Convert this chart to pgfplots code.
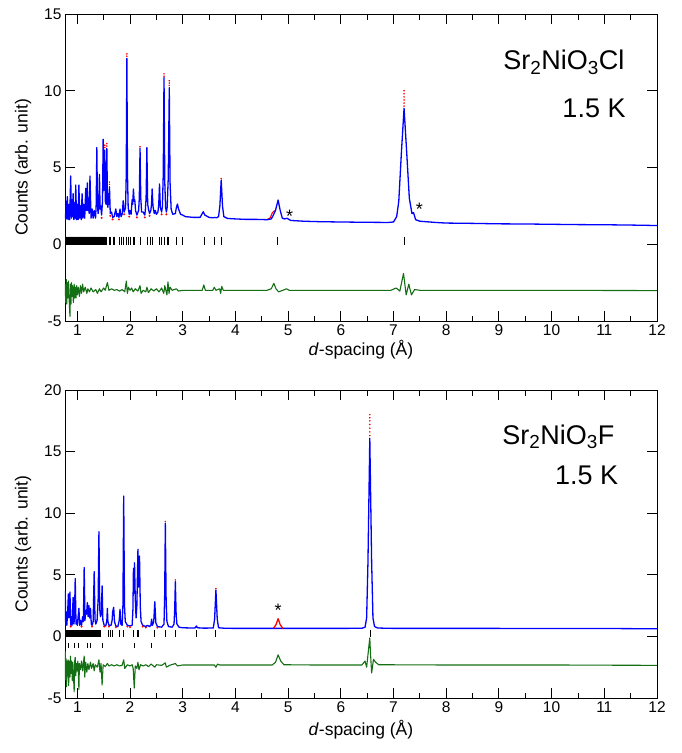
\documentclass[border=0pt]{standalone}
\usepackage{pgfplots}
\pgfplotsset{compat=1.18}
\usepackage{fontspec}
\setmainfont{Liberation Sans}
\definecolor{dgreen}{RGB}{20,110,20}
\pgfplotsset{
 myax/.style={scale only axis, width=592pt, xmin=0.766, xmax=12,
  xtick={1,2,3,4,5,6,7,8,9,10,11,12}, minor x tick num=1,
  tick align=inside, major tick length=10pt, minor tick length=5.5pt,
  axis line style={line width=0.9pt}, every tick/.style={black, line width=0.9pt},
  tick label style={font=\fontsize{15.5}{17}\selectfont},
  label style={font=\fontsize{17.5}{20}\selectfont},
  xlabel={\textit{d}-spacing (Å)}, ylabel={Counts (arb. unit)},
  xlabel style={yshift=2pt}, ylabel shift=6pt,
  /pgf/number format/assume math mode=true, clip=true},
 calc/.style={blue, line width=1.3pt, line join=round},
 obs/.style={red, line width=1.1pt, line join=round},
 obsdot/.style={red, only marks, mark=*, mark size=0.55pt},
 diff/.style={dgreen, line width=1.1pt, line join=round},
 refl/.style={black, only marks, mark=|, mark options={line width=0.6pt}},
}
\begin{document}
\begin{tikzpicture}
\useasboundingbox (-65pt,-432pt) rectangle (616pt,321pt);
% ---------------- Top: Sr2NiO3Cl ----------------
\begin{axis}[myax, at={(0pt,0pt)}, anchor=south west, height=307pt,
  ymin=-5, ymax=15, ytick={-5,0,5,10,15}]
\addplot[obsdot, mark size=0.8pt] coordinates {(1.46,1.72)(1.625,1.85)(1.67,1.62)(1.79,1.62)(1.89,1.95)(1.985,1.8)(2.13,1.75)(2.28,1.75)(2.37,1.85)(2.6,1.95)(2.69,1.95)};
\addplot[obs] coordinates {(4.6,1.6)(4.66,1.72)(4.70,2.05)(4.73,2.15)(4.76,2.2)};
\addplot[calc] coordinates {(0.77,2.0)(0.78,1.6)(0.79,2.8)(0.80,1.7)(0.81,3.1)(0.825,1.6)(0.84,2.6)(0.855,1.6)(0.874,4.45)(0.888,1.7)(0.90,2.9)(0.91,1.8)(0.92,3.3)(0.935,1.6)(0.95,2.7)(0.96,1.7)(0.97,3.86)(0.985,1.6)(1.00,2.6)(1.015,1.6)(1.03,3.86)(1.045,1.7)(1.06,2.5)(1.075,1.6)(1.09,3.3)(1.105,1.7)(1.12,2.6)(1.14,1.7)(1.16,3.64)(1.175,2.2)(1.19,4.0)(1.20,2.2)(1.21,3.0)(1.225,2.0)(1.24,4.45)(1.26,1.7)(1.28,2.3)(1.30,1.7)(1.32,2.2)(1.346,1.7)(1.358,2.6)(1.37,6.3)(1.382,2.6)(1.394,2.0)(1.408,2.4)(1.42,4.55)(1.432,2.3)(1.445,2.5)(1.46,1.9)(1.478,2.8)(1.49,6.84)(1.50,3.5)(1.52,6.14)(1.532,2.8)(1.545,2.6)(1.56,6.25)(1.572,2.6)(1.58,2.4)(1.59,3.3)(1.60,2.6)(1.61,3.75)(1.625,2.0)(1.65,2.1)(1.67,1.75)(1.70,1.8)(1.73,2.3)(1.75,1.8)(1.77,2.0)(1.79,1.75)(1.81,2.3)(1.83,1.8)(1.855,2.0)(1.87,2.84)(1.89,2.1)(1.915,2.4)(1.928,4.5)(1.94,12.1)(1.952,4.5)(1.965,2.4)(1.985,1.95)(2.00,2.2)(2.02,1.95)(2.04,2.9)(2.05,2.6)(2.065,3.6)(2.078,2.8)(2.09,2.9)(2.105,2.2)(2.13,1.9)(2.163,2.2)(2.176,3.0)(2.19,6.25)(2.204,3.0)(2.22,2.1)(2.25,2.1)(2.28,1.9)(2.29,2.2)(2.305,3.0)(2.32,6.3)(2.335,2.6)(2.35,2.3)(2.37,2.0)(2.395,2.2)(2.408,2.6)(2.42,3.6)(2.435,2.5)(2.46,2.0)(2.48,2.2)(2.50,1.95)(2.53,2.1)(2.545,2.6)(2.56,3.93)(2.575,2.4)(2.6,2.1)(2.615,2.5)(2.63,4.5)(2.645,10.87)(2.66,4.0)(2.675,2.4)(2.69,2.1)(2.705,2.4)(2.725,4.3)(2.745,10.2)(2.76,4.0)(2.78,2.3)(2.81,1.95)(2.86,2.0)(2.88,2.4)(2.9,2.62)(2.92,2.3)(2.96,1.95)(3.0,1.9)(3.05,1.8)(3.2,1.75)(3.33,1.75)(3.37,2.0)(3.39,2.12)(3.42,1.9)(3.5,1.75)(3.58,1.72)(3.61,1.75)(3.64,1.72)(3.68,1.8)(3.705,2.5)(3.73,4.18)(3.755,2.5)(3.78,1.8)(3.85,1.68)(4.0,1.65)(4.2,1.62)(4.4,1.62)(4.6,1.6)(4.68,1.65)(4.72,1.9)(4.76,2.2)(4.81,2.88)(4.85,2.2)(4.89,1.7)(4.93,1.65)(4.98,1.69)(5.05,1.55)(5.3,1.5)(5.6,1.47)(6.0,1.45)(6.5,1.43)(6.9,1.42)(7.0,1.45)(7.06,1.8)(7.1,2.8)(7.15,6.0)(7.2,8.86)(7.25,6.0)(7.3,3.0)(7.35,2.0)(7.38,2.06)(7.42,1.6)(7.5,1.5)(7.8,1.42)(8.0,1.38)(8.5,1.36)(9.0,1.33)(9.5,1.32)(10,1.3)(10.5,1.28)(11,1.27)(11.5,1.25)(12,1.22)};
\addplot[obsdot] coordinates {(1.94,12.25)(1.94,12.4)(2.645,10.95)(2.645,11.1)(2.745,10.35)(2.745,10.5)(2.745,10.65)(1.52,6.3)(1.52,6.45)(1.56,6.4)(1.56,6.55)(1.61,3.9)(1.61,4.05)(2.19,6.35)(3.73,4.28)(7.2,9.0)(7.2,9.2)(7.2,9.4)(7.2,9.6)(7.2,9.8)(7.2,10.0)};
\addplot[refl, mark size=4.2pt] coordinates {(0.77,0.22)(0.78,0.22)(0.79,0.22)(0.80,0.22)(0.81,0.22)(0.82,0.22)(0.83,0.22)(0.84,0.22)(0.85,0.22)(0.86,0.22)(0.87,0.22)(0.88,0.22)(0.89,0.22)(0.90,0.22)(0.91,0.22)(0.92,0.22)(0.93,0.22)(0.94,0.22)(0.95,0.22)(0.96,0.22)(0.97,0.22)(0.98,0.22)(0.99,0.22)(1.00,0.22)(1.01,0.22)(1.02,0.22)(1.03,0.22)(1.04,0.22)(1.05,0.22)(1.06,0.22)(1.07,0.22)(1.08,0.22)(1.09,0.22)(1.10,0.22)(1.11,0.22)(1.12,0.22)(1.13,0.22)(1.14,0.22)(1.15,0.22)(1.16,0.22)(1.17,0.22)(1.18,0.22)(1.19,0.22)(1.20,0.22)(1.21,0.22)(1.22,0.22)(1.23,0.22)(1.24,0.22)(1.25,0.22)(1.26,0.22)(1.27,0.22)(1.28,0.22)(1.29,0.22)(1.30,0.22)(1.31,0.22)(1.32,0.22)(1.33,0.22)(1.34,0.22)(1.35,0.22)(1.36,0.22)(1.37,0.22)(1.38,0.22)(1.39,0.22)(1.40,0.22)(1.41,0.22)(1.42,0.22)(1.43,0.22)(1.44,0.22)(1.45,0.22)(1.465,0.22)(1.48,0.22)(1.49,0.22)(1.505,0.22)(1.52,0.22)(1.535,0.22)(1.55,0.22)(1.60,0.22)(1.63,0.22)(1.68,0.22)(1.71,0.22)(1.79,0.22)(1.83,0.22)(1.88,0.22)(1.93,0.22)(1.96,0.22)(2.01,0.22)(2.06,0.22)(2.09,0.22)(2.19,0.22)(2.33,0.22)(2.38,0.22)(2.42,0.22)(2.55,0.22)(2.59,0.22)(2.645,0.22)(2.71,0.22)(2.73,0.22)(2.88,0.22)(3.0,0.22)(3.4,0.22)(3.6,0.22)(3.73,0.22)(4.79,0.22)(7.2,0.22)};
\addplot[diff] coordinates {(0.77,-2.6)(0.78,-3.8)(0.79,-2.3)(0.80,-3.9)(0.81,-2.5)(0.82,-3.5)(0.83,-2.4)(0.845,-3.6)(0.86,-4.7)(0.87,-2.6)(0.88,-3.9)(0.89,-2.5)(0.90,-3.4)(0.91,-2.7)(0.925,-3.8)(0.94,-2.6)(0.95,-3.5)(0.96,-2.8)(0.975,-3.5)(0.99,-2.7)(1.0,-3.3)(1.02,-2.8)(1.04,-3.4)(1.06,-2.7)(1.08,-3.2)(1.10,-2.6)(1.12,-3.1)(1.15,-2.8)(1.18,-3.2)(1.2,-2.9)(1.23,-3.1)(1.26,-2.85)(1.3,-3.1)(1.35,-2.95)(1.38,-3.2)(1.42,-2.9)(1.45,-3.1)(1.5,-2.85)(1.53,-3.0)(1.57,-2.5)(1.6,-3.0)(1.65,-2.9)(1.7,-3.0)(1.75,-2.95)(1.8,-3.05)(1.85,-2.95)(1.9,-3.1)(1.93,-2.4)(1.95,-3.2)(1.97,-2.8)(2.0,-3.0)(2.03,-2.85)(2.06,-3.1)(2.1,-2.9)(2.15,-3.05)(2.19,-2.7)(2.21,-3.2)(2.25,-3.0)(2.3,-3.1)(2.32,-2.8)(2.35,-3.15)(2.4,-2.9)(2.45,-3.05)(2.5,-2.9)(2.55,-3.1)(2.6,-2.85)(2.64,-3.2)(2.66,-2.7)(2.7,-3.3)(2.72,-2.45)(2.74,-3.2)(2.76,-2.8)(2.8,-3.0)(2.88,-2.9)(2.92,-3.05)(3.0,-3.0)(3.2,-3.0)(3.37,-3.0)(3.40,-2.65)(3.43,-3.0)(3.57,-3.0)(3.60,-2.8)(3.63,-3.0)(3.7,-2.9)(3.72,-3.2)(3.74,-2.75)(3.77,-3.0)(4.0,-3.0)(4.6,-3.0)(4.68,-2.9)(4.73,-2.55)(4.77,-2.9)(4.82,-3.1)(4.9,-3.0)(4.97,-2.9)(5.02,-3.0)(6.0,-3.0)(6.95,-3.0)(7.05,-2.85)(7.12,-3.05)(7.19,-1.9)(7.24,-3.3)(7.29,-2.6)(7.34,-3.3)(7.4,-2.95)(7.5,-3.0)(8,-3.0)(10,-3.0)(12,-3.02)};
\node[anchor=east, font=\fontsize{27}{30}\selectfont] at (axis cs:11.45,11.85) {Sr\textsubscript{2}NiO\textsubscript{3}Cl};
\node[anchor=east, font=\fontsize{27}{30}\selectfont] at (axis cs:11.47,8.85) {1.5 K};
\node[font=\fontsize{18}{20}\selectfont] at (axis cs:5.03,1.85) {*};
\node[font=\fontsize{18}{20}\selectfont] at (axis cs:7.49,2.25) {*};
\end{axis}
% ---------------- Bottom: Sr2NiO3F ----------------
\begin{axis}[myax, at={(0pt,-377pt)}, anchor=south west, height=308pt,
  ymin=-5, ymax=20, ytick={-5,0,5,10,15,20}, xlabel style={yshift=-3pt}]
\addplot[obsdot, mark size=0.8pt] coordinates {(0.875,0.8)(1.08,0.8)(1.28,0.8)(1.51,0.8)(1.60,0.8)(1.73,0.75)(1.95,0.8)(2.0,0.75)(2.24,0.8)(2.3,0.72)(2.52,0.72)};
\addplot[calc] coordinates {(0.76,1.2)(0.77,3.63)(0.78,1.0)(0.79,2.0)(0.80,0.9)(0.815,1.8)(0.83,3.44)(0.84,1.5)(0.86,3.6)(0.875,0.9)(0.89,1.6)(0.90,0.9)(0.92,3.17)(0.935,1.0)(0.945,1.5)(0.96,4.7)(0.975,1.0)(0.99,1.3)(1.00,0.9)(1.03,2.28)(1.045,0.9)(1.06,1.3)(1.08,0.9)(1.10,1.6)(1.115,1.2)(1.13,5.6)(1.145,1.3)(1.16,2.1)(1.175,1.8)(1.19,2.74)(1.205,1.6)(1.22,2.5)(1.235,1.5)(1.25,2.28)(1.265,1.0)(1.28,0.9)(1.30,1.2)(1.32,5.26)(1.335,1.4)(1.35,1.0)(1.375,1.3)(1.395,3.0)(1.41,8.5)(1.425,2.2)(1.44,1.6)(1.455,1.8)(1.47,4.1)(1.485,1.3)(1.51,0.9)(1.54,0.85)(1.56,1.3)(1.57,2.28)(1.58,1.2)(1.60,0.9)(1.64,0.9)(1.66,1.3)(1.67,2.0)(1.69,2.36)(1.705,1.2)(1.73,0.85)(1.77,0.8)(1.795,1.3)(1.81,2.2)(1.825,1.0)(1.85,0.9)(1.865,2.5)(1.88,11.4)(1.895,2.5)(1.91,1.2)(1.95,0.9)(2.0,0.85)(2.04,0.9)(2.055,2.2)(2.065,5.52)(2.075,3.5)(2.085,5.98)(2.1,3.0)(2.115,1.5)(2.13,2.5)(2.15,7.07)(2.163,4.0)(2.18,6.53)(2.195,2.4)(2.21,1.2)(2.24,0.9)(2.3,0.8)(2.33,0.9)(2.37,0.8)(2.395,0.9)(2.41,1.4)(2.425,0.9)(2.45,1.2)(2.47,2.82)(2.49,1.1)(2.52,0.8)(2.6,0.75)(2.645,1.0)(2.658,3.5)(2.67,9.18)(2.685,3.0)(2.70,1.2)(2.73,0.8)(2.8,0.75)(2.835,1.0)(2.848,2.2)(2.86,4.44)(2.875,1.8)(2.89,1.0)(2.93,0.75)(3.0,0.7)(3.2,0.68)(3.24,0.7)(3.26,0.85)(3.28,0.7)(3.4,0.67)(3.58,0.68)(3.605,1.4)(3.63,3.77)(3.655,1.4)(3.68,0.7)(3.8,0.66)(4.0,0.65)(5,0.65)(6.0,0.65)(6.4,0.66)(6.46,0.75)(6.49,1.5)(6.515,6.0)(6.55,16.08)(6.585,6.0)(6.61,1.5)(6.64,0.8)(6.7,0.68)(7,0.65)(8,0.65)(9,0.65)(10,0.64)(11,0.64)(12,0.62)};
\addplot[obs, line width=1.3pt] coordinates {(4.72,0.65)(4.77,0.95)(4.81,1.44)(4.85,0.95)(4.9,0.65)};
\addplot[obsdot] coordinates {(6.55,16.3)(6.55,16.6)(6.55,16.9)(6.55,17.2)(6.55,17.5)(6.55,17.75)(6.55,18.0)(2.67,9.32)(2.86,4.58)(3.63,3.88)};
\addplot[refl, mark size=3.3pt] coordinates {(0.76,0.25)(0.77,0.25)(0.78,0.25)(0.79,0.25)(0.80,0.25)(0.81,0.25)(0.82,0.25)(0.83,0.25)(0.84,0.25)(0.85,0.25)(0.86,0.25)(0.87,0.25)(0.88,0.25)(0.89,0.25)(0.90,0.25)(0.91,0.25)(0.92,0.25)(0.93,0.25)(0.94,0.25)(0.95,0.25)(0.96,0.25)(0.97,0.25)(0.98,0.25)(0.99,0.25)(1.00,0.25)(1.01,0.25)(1.02,0.25)(1.03,0.25)(1.04,0.25)(1.05,0.25)(1.06,0.25)(1.07,0.25)(1.08,0.25)(1.09,0.25)(1.10,0.25)(1.11,0.25)(1.12,0.25)(1.13,0.25)(1.14,0.25)(1.15,0.25)(1.16,0.25)(1.17,0.25)(1.18,0.25)(1.19,0.25)(1.20,0.25)(1.21,0.25)(1.22,0.25)(1.23,0.25)(1.24,0.25)(1.25,0.25)(1.26,0.25)(1.27,0.25)(1.28,0.25)(1.29,0.25)(1.30,0.25)(1.31,0.25)(1.32,0.25)(1.33,0.25)(1.34,0.25)(1.35,0.25)(1.36,0.25)(1.37,0.25)(1.38,0.25)(1.39,0.25)(1.40,0.25)(1.41,0.25)(1.42,0.25)(1.43,0.25)(1.44,0.25)(1.58,0.25)(1.63,0.25)(1.67,0.25)(1.80,0.25)(1.875,0.25)(2.06,0.25)(2.13,0.25)(2.16,0.25)(2.46,0.25)(2.67,0.25)(2.85,0.25)(3.26,0.25)(3.62,0.25)(6.55,0.25)};
\addplot[refl, mark size=2.9pt] coordinates {(0.77,-0.74)(0.83,-0.74)(0.94,-0.74)(1.02,-0.74)(1.19,-0.74)(1.25,-0.74)(1.47,-0.74)(2.08,-0.74)(2.41,-0.74)};
\addplot[diff] coordinates {(0.76,-1.6)(0.77,-1.24)(0.775,-3.5)(0.785,-1.8)(0.795,-4.1)(0.805,-2.0)(0.815,-3.2)(0.825,-1.9)(0.835,-4.0)(0.845,-2.0)(0.86,-3.3)(0.87,-1.6)(0.88,-3.0)(0.89,-2.0)(0.905,-3.6)(0.915,-2.1)(0.925,-3.0)(0.94,-4.5)(0.95,-2.0)(0.96,-1.7)(0.97,-3.2)(0.985,-2.2)(0.995,-2.8)(1.01,-2.0)(1.02,-3.1)(1.03,-4.3)(1.04,-2.2)(1.06,-2.7)(1.08,-2.0)(1.1,-2.8)(1.12,-2.0)(1.13,-1.6)(1.14,-3.3)(1.16,-2.1)(1.18,-2.9)(1.2,-2.2)(1.22,-2.7)(1.25,-2.1)(1.27,-2.6)(1.3,-2.2)(1.32,-2.8)(1.34,-2.3)(1.38,-2.5)(1.41,-1.9)(1.43,-2.9)(1.45,-2.2)(1.47,-3.95)(1.49,-2.3)(1.53,-2.45)(1.57,-2.2)(1.6,-2.4)(1.65,-2.3)(1.7,-2.4)(1.75,-2.3)(1.8,-2.4)(1.85,-2.35)(1.88,-1.9)(1.9,-2.6)(1.95,-2.3)(2.0,-2.4)(2.04,-2.3)(2.06,-2.6)(2.08,-4.2)(2.1,-2.4)(2.13,-2.6)(2.15,-2.1)(2.17,-2.7)(2.2,-2.3)(2.25,-2.4)(2.3,-2.3)(2.35,-2.45)(2.4,-2.25)(2.47,-2.5)(2.5,-2.3)(2.6,-2.35)(2.67,-2.15)(2.69,-2.5)(2.75,-2.35)(2.86,-2.2)(2.9,-2.4)(3.0,-2.32)(3.6,-2.32)(3.63,-2.5)(3.66,-2.25)(3.7,-2.32)(4.7,-2.32)(4.76,-2.1)(4.81,-1.5)(4.86,-2.0)(4.92,-2.3)(5.5,-2.32)(6.4,-2.32)(6.46,-2.0)(6.49,-2.5)(6.53,-0.9)(6.55,-0.13)(6.565,-1.5)(6.585,-2.97)(6.62,-1.86)(6.66,-2.1)(6.72,-2.3)(8,-2.32)(10,-2.32)(12,-2.35)};
\node[anchor=east, font=\fontsize{27}{30}\selectfont] at (axis cs:11.26,16.2) {Sr\textsubscript{2}NiO\textsubscript{3}F};
\node[anchor=east, font=\fontsize{27}{30}\selectfont] at (axis cs:11.33,13.1) {1.5 K};
\node[font=\fontsize{18}{20}\selectfont] at (axis cs:4.81,2.1) {*};
\end{axis}
\end{tikzpicture}
\end{document}
